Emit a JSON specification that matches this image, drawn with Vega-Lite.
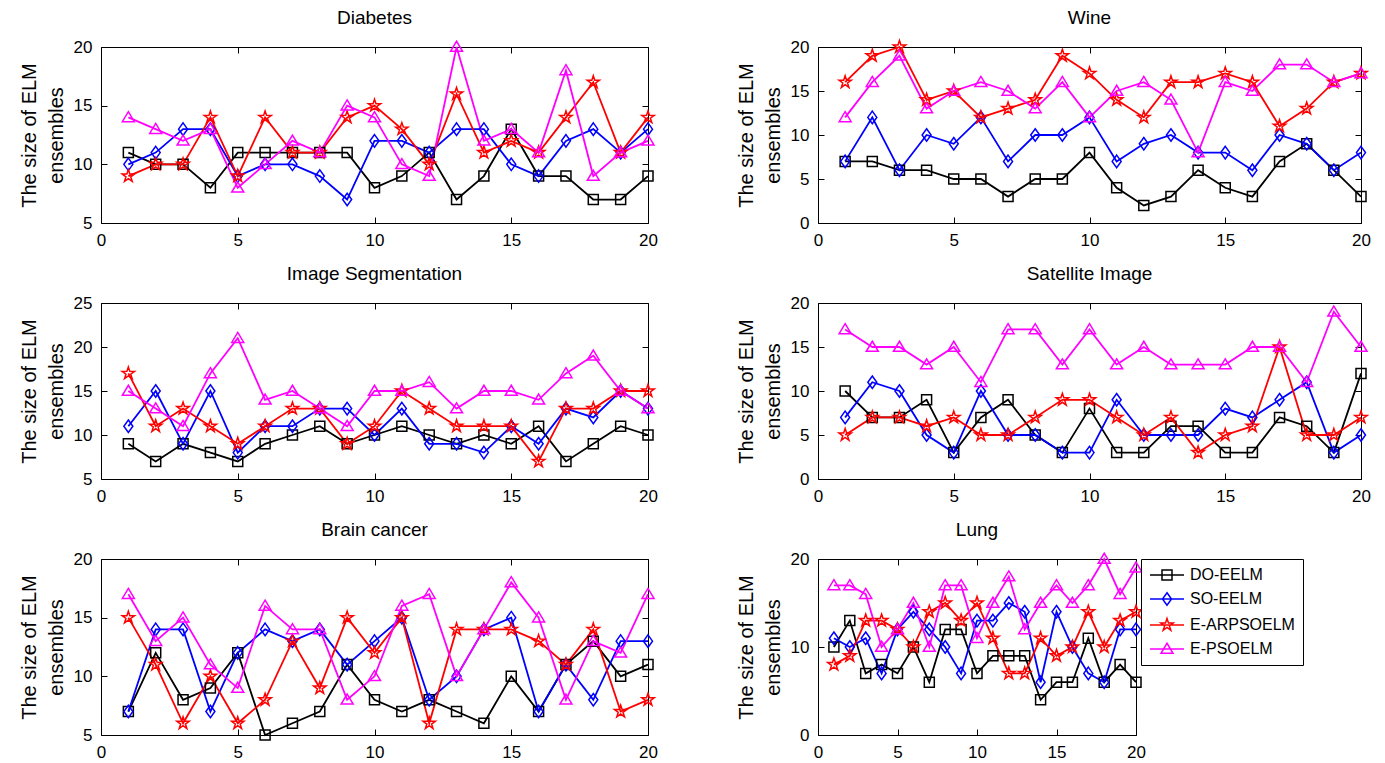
{
"$schema": "https://vega.github.io/schema/vega-lite/v6.json",
"padding": {"left": 18, "top": 8, "right": 5, "bottom": 5},
"background": "white",
"data": {"values": [
{"p":"Diabetes","m":"DO-EELM","x":1,"y":11},{"p":"Diabetes","m":"DO-EELM","x":2,"y":10},{"p":"Diabetes","m":"DO-EELM","x":3,"y":10},{"p":"Diabetes","m":"DO-EELM","x":4,"y":8},{"p":"Diabetes","m":"DO-EELM","x":5,"y":11},{"p":"Diabetes","m":"DO-EELM","x":6,"y":11},{"p":"Diabetes","m":"DO-EELM","x":7,"y":11},{"p":"Diabetes","m":"DO-EELM","x":8,"y":11},{"p":"Diabetes","m":"DO-EELM","x":9,"y":11},{"p":"Diabetes","m":"DO-EELM","x":10,"y":8},{"p":"Diabetes","m":"DO-EELM","x":11,"y":9},{"p":"Diabetes","m":"DO-EELM","x":12,"y":11},{"p":"Diabetes","m":"DO-EELM","x":13,"y":7},{"p":"Diabetes","m":"DO-EELM","x":14,"y":9},{"p":"Diabetes","m":"DO-EELM","x":15,"y":13},{"p":"Diabetes","m":"DO-EELM","x":16,"y":9},{"p":"Diabetes","m":"DO-EELM","x":17,"y":9},{"p":"Diabetes","m":"DO-EELM","x":18,"y":7},{"p":"Diabetes","m":"DO-EELM","x":19,"y":7},{"p":"Diabetes","m":"DO-EELM","x":20,"y":9},
{"p":"Diabetes","m":"SO-EELM","x":1,"y":10},{"p":"Diabetes","m":"SO-EELM","x":2,"y":11},{"p":"Diabetes","m":"SO-EELM","x":3,"y":13},{"p":"Diabetes","m":"SO-EELM","x":4,"y":13},{"p":"Diabetes","m":"SO-EELM","x":5,"y":9},{"p":"Diabetes","m":"SO-EELM","x":6,"y":10},{"p":"Diabetes","m":"SO-EELM","x":7,"y":10},{"p":"Diabetes","m":"SO-EELM","x":8,"y":9},{"p":"Diabetes","m":"SO-EELM","x":9,"y":7},{"p":"Diabetes","m":"SO-EELM","x":10,"y":12},{"p":"Diabetes","m":"SO-EELM","x":11,"y":12},{"p":"Diabetes","m":"SO-EELM","x":12,"y":11},{"p":"Diabetes","m":"SO-EELM","x":13,"y":13},{"p":"Diabetes","m":"SO-EELM","x":14,"y":13},{"p":"Diabetes","m":"SO-EELM","x":15,"y":10},{"p":"Diabetes","m":"SO-EELM","x":16,"y":9},{"p":"Diabetes","m":"SO-EELM","x":17,"y":12},{"p":"Diabetes","m":"SO-EELM","x":18,"y":13},{"p":"Diabetes","m":"SO-EELM","x":19,"y":11},{"p":"Diabetes","m":"SO-EELM","x":20,"y":13},
{"p":"Diabetes","m":"E-ARPSOELM","x":1,"y":9},{"p":"Diabetes","m":"E-ARPSOELM","x":2,"y":10},{"p":"Diabetes","m":"E-ARPSOELM","x":3,"y":10},{"p":"Diabetes","m":"E-ARPSOELM","x":4,"y":14},{"p":"Diabetes","m":"E-ARPSOELM","x":5,"y":9},{"p":"Diabetes","m":"E-ARPSOELM","x":6,"y":14},{"p":"Diabetes","m":"E-ARPSOELM","x":7,"y":11},{"p":"Diabetes","m":"E-ARPSOELM","x":8,"y":11},{"p":"Diabetes","m":"E-ARPSOELM","x":9,"y":14},{"p":"Diabetes","m":"E-ARPSOELM","x":10,"y":15},{"p":"Diabetes","m":"E-ARPSOELM","x":11,"y":13},{"p":"Diabetes","m":"E-ARPSOELM","x":12,"y":10},{"p":"Diabetes","m":"E-ARPSOELM","x":13,"y":16},{"p":"Diabetes","m":"E-ARPSOELM","x":14,"y":11},{"p":"Diabetes","m":"E-ARPSOELM","x":15,"y":12},{"p":"Diabetes","m":"E-ARPSOELM","x":16,"y":11},{"p":"Diabetes","m":"E-ARPSOELM","x":17,"y":14},{"p":"Diabetes","m":"E-ARPSOELM","x":18,"y":17},{"p":"Diabetes","m":"E-ARPSOELM","x":19,"y":11},{"p":"Diabetes","m":"E-ARPSOELM","x":20,"y":14},
{"p":"Diabetes","m":"E-PSOELM","x":1,"y":14},{"p":"Diabetes","m":"E-PSOELM","x":2,"y":13},{"p":"Diabetes","m":"E-PSOELM","x":3,"y":12},{"p":"Diabetes","m":"E-PSOELM","x":4,"y":13},{"p":"Diabetes","m":"E-PSOELM","x":5,"y":8},{"p":"Diabetes","m":"E-PSOELM","x":6,"y":10},{"p":"Diabetes","m":"E-PSOELM","x":7,"y":12},{"p":"Diabetes","m":"E-PSOELM","x":8,"y":11},{"p":"Diabetes","m":"E-PSOELM","x":9,"y":15},{"p":"Diabetes","m":"E-PSOELM","x":10,"y":14},{"p":"Diabetes","m":"E-PSOELM","x":11,"y":10},{"p":"Diabetes","m":"E-PSOELM","x":12,"y":9},{"p":"Diabetes","m":"E-PSOELM","x":13,"y":20},{"p":"Diabetes","m":"E-PSOELM","x":14,"y":12},{"p":"Diabetes","m":"E-PSOELM","x":15,"y":13},{"p":"Diabetes","m":"E-PSOELM","x":16,"y":11},{"p":"Diabetes","m":"E-PSOELM","x":17,"y":18},{"p":"Diabetes","m":"E-PSOELM","x":18,"y":9},{"p":"Diabetes","m":"E-PSOELM","x":19,"y":11},{"p":"Diabetes","m":"E-PSOELM","x":20,"y":12},
{"p":"Wine","m":"DO-EELM","x":1,"y":7},{"p":"Wine","m":"DO-EELM","x":2,"y":7},{"p":"Wine","m":"DO-EELM","x":3,"y":6},{"p":"Wine","m":"DO-EELM","x":4,"y":6},{"p":"Wine","m":"DO-EELM","x":5,"y":5},{"p":"Wine","m":"DO-EELM","x":6,"y":5},{"p":"Wine","m":"DO-EELM","x":7,"y":3},{"p":"Wine","m":"DO-EELM","x":8,"y":5},{"p":"Wine","m":"DO-EELM","x":9,"y":5},{"p":"Wine","m":"DO-EELM","x":10,"y":8},{"p":"Wine","m":"DO-EELM","x":11,"y":4},{"p":"Wine","m":"DO-EELM","x":12,"y":2},{"p":"Wine","m":"DO-EELM","x":13,"y":3},{"p":"Wine","m":"DO-EELM","x":14,"y":6},{"p":"Wine","m":"DO-EELM","x":15,"y":4},{"p":"Wine","m":"DO-EELM","x":16,"y":3},{"p":"Wine","m":"DO-EELM","x":17,"y":7},{"p":"Wine","m":"DO-EELM","x":18,"y":9},{"p":"Wine","m":"DO-EELM","x":19,"y":6},{"p":"Wine","m":"DO-EELM","x":20,"y":3},
{"p":"Wine","m":"SO-EELM","x":1,"y":7},{"p":"Wine","m":"SO-EELM","x":2,"y":12},{"p":"Wine","m":"SO-EELM","x":3,"y":6},{"p":"Wine","m":"SO-EELM","x":4,"y":10},{"p":"Wine","m":"SO-EELM","x":5,"y":9},{"p":"Wine","m":"SO-EELM","x":6,"y":12},{"p":"Wine","m":"SO-EELM","x":7,"y":7},{"p":"Wine","m":"SO-EELM","x":8,"y":10},{"p":"Wine","m":"SO-EELM","x":9,"y":10},{"p":"Wine","m":"SO-EELM","x":10,"y":12},{"p":"Wine","m":"SO-EELM","x":11,"y":7},{"p":"Wine","m":"SO-EELM","x":12,"y":9},{"p":"Wine","m":"SO-EELM","x":13,"y":10},{"p":"Wine","m":"SO-EELM","x":14,"y":8},{"p":"Wine","m":"SO-EELM","x":15,"y":8},{"p":"Wine","m":"SO-EELM","x":16,"y":6},{"p":"Wine","m":"SO-EELM","x":17,"y":10},{"p":"Wine","m":"SO-EELM","x":18,"y":9},{"p":"Wine","m":"SO-EELM","x":19,"y":6},{"p":"Wine","m":"SO-EELM","x":20,"y":8},
{"p":"Wine","m":"E-ARPSOELM","x":1,"y":16},{"p":"Wine","m":"E-ARPSOELM","x":2,"y":19},{"p":"Wine","m":"E-ARPSOELM","x":3,"y":20},{"p":"Wine","m":"E-ARPSOELM","x":4,"y":14},{"p":"Wine","m":"E-ARPSOELM","x":5,"y":15},{"p":"Wine","m":"E-ARPSOELM","x":6,"y":12},{"p":"Wine","m":"E-ARPSOELM","x":7,"y":13},{"p":"Wine","m":"E-ARPSOELM","x":8,"y":14},{"p":"Wine","m":"E-ARPSOELM","x":9,"y":19},{"p":"Wine","m":"E-ARPSOELM","x":10,"y":17},{"p":"Wine","m":"E-ARPSOELM","x":11,"y":14},{"p":"Wine","m":"E-ARPSOELM","x":12,"y":12},{"p":"Wine","m":"E-ARPSOELM","x":13,"y":16},{"p":"Wine","m":"E-ARPSOELM","x":14,"y":16},{"p":"Wine","m":"E-ARPSOELM","x":15,"y":17},{"p":"Wine","m":"E-ARPSOELM","x":16,"y":16},{"p":"Wine","m":"E-ARPSOELM","x":17,"y":11},{"p":"Wine","m":"E-ARPSOELM","x":18,"y":13},{"p":"Wine","m":"E-ARPSOELM","x":19,"y":16},{"p":"Wine","m":"E-ARPSOELM","x":20,"y":17},
{"p":"Wine","m":"E-PSOELM","x":1,"y":12},{"p":"Wine","m":"E-PSOELM","x":2,"y":16},{"p":"Wine","m":"E-PSOELM","x":3,"y":19},{"p":"Wine","m":"E-PSOELM","x":4,"y":13},{"p":"Wine","m":"E-PSOELM","x":5,"y":15},{"p":"Wine","m":"E-PSOELM","x":6,"y":16},{"p":"Wine","m":"E-PSOELM","x":7,"y":15},{"p":"Wine","m":"E-PSOELM","x":8,"y":13},{"p":"Wine","m":"E-PSOELM","x":9,"y":16},{"p":"Wine","m":"E-PSOELM","x":10,"y":12},{"p":"Wine","m":"E-PSOELM","x":11,"y":15},{"p":"Wine","m":"E-PSOELM","x":12,"y":16},{"p":"Wine","m":"E-PSOELM","x":13,"y":14},{"p":"Wine","m":"E-PSOELM","x":14,"y":8},{"p":"Wine","m":"E-PSOELM","x":15,"y":16},{"p":"Wine","m":"E-PSOELM","x":16,"y":15},{"p":"Wine","m":"E-PSOELM","x":17,"y":18},{"p":"Wine","m":"E-PSOELM","x":18,"y":18},{"p":"Wine","m":"E-PSOELM","x":19,"y":16},{"p":"Wine","m":"E-PSOELM","x":20,"y":17},
{"p":"Image Segmentation","m":"DO-EELM","x":1,"y":9},{"p":"Image Segmentation","m":"DO-EELM","x":2,"y":7},{"p":"Image Segmentation","m":"DO-EELM","x":3,"y":9},{"p":"Image Segmentation","m":"DO-EELM","x":4,"y":8},{"p":"Image Segmentation","m":"DO-EELM","x":5,"y":7},{"p":"Image Segmentation","m":"DO-EELM","x":6,"y":9},{"p":"Image Segmentation","m":"DO-EELM","x":7,"y":10},{"p":"Image Segmentation","m":"DO-EELM","x":8,"y":11},{"p":"Image Segmentation","m":"DO-EELM","x":9,"y":9},{"p":"Image Segmentation","m":"DO-EELM","x":10,"y":10},{"p":"Image Segmentation","m":"DO-EELM","x":11,"y":11},{"p":"Image Segmentation","m":"DO-EELM","x":12,"y":10},{"p":"Image Segmentation","m":"DO-EELM","x":13,"y":9},{"p":"Image Segmentation","m":"DO-EELM","x":14,"y":10},{"p":"Image Segmentation","m":"DO-EELM","x":15,"y":9},{"p":"Image Segmentation","m":"DO-EELM","x":16,"y":11},{"p":"Image Segmentation","m":"DO-EELM","x":17,"y":7},{"p":"Image Segmentation","m":"DO-EELM","x":18,"y":9},{"p":"Image Segmentation","m":"DO-EELM","x":19,"y":11},{"p":"Image Segmentation","m":"DO-EELM","x":20,"y":10},
{"p":"Image Segmentation","m":"SO-EELM","x":1,"y":11},{"p":"Image Segmentation","m":"SO-EELM","x":2,"y":15},{"p":"Image Segmentation","m":"SO-EELM","x":3,"y":9},{"p":"Image Segmentation","m":"SO-EELM","x":4,"y":15},{"p":"Image Segmentation","m":"SO-EELM","x":5,"y":8},{"p":"Image Segmentation","m":"SO-EELM","x":6,"y":11},{"p":"Image Segmentation","m":"SO-EELM","x":7,"y":11},{"p":"Image Segmentation","m":"SO-EELM","x":8,"y":13},{"p":"Image Segmentation","m":"SO-EELM","x":9,"y":13},{"p":"Image Segmentation","m":"SO-EELM","x":10,"y":10},{"p":"Image Segmentation","m":"SO-EELM","x":11,"y":13},{"p":"Image Segmentation","m":"SO-EELM","x":12,"y":9},{"p":"Image Segmentation","m":"SO-EELM","x":13,"y":9},{"p":"Image Segmentation","m":"SO-EELM","x":14,"y":8},{"p":"Image Segmentation","m":"SO-EELM","x":15,"y":11},{"p":"Image Segmentation","m":"SO-EELM","x":16,"y":9},{"p":"Image Segmentation","m":"SO-EELM","x":17,"y":13},{"p":"Image Segmentation","m":"SO-EELM","x":18,"y":12},{"p":"Image Segmentation","m":"SO-EELM","x":19,"y":15},{"p":"Image Segmentation","m":"SO-EELM","x":20,"y":13},
{"p":"Image Segmentation","m":"E-ARPSOELM","x":1,"y":17},{"p":"Image Segmentation","m":"E-ARPSOELM","x":2,"y":11},{"p":"Image Segmentation","m":"E-ARPSOELM","x":3,"y":13},{"p":"Image Segmentation","m":"E-ARPSOELM","x":4,"y":11},{"p":"Image Segmentation","m":"E-ARPSOELM","x":5,"y":9},{"p":"Image Segmentation","m":"E-ARPSOELM","x":6,"y":11},{"p":"Image Segmentation","m":"E-ARPSOELM","x":7,"y":13},{"p":"Image Segmentation","m":"E-ARPSOELM","x":8,"y":13},{"p":"Image Segmentation","m":"E-ARPSOELM","x":9,"y":9},{"p":"Image Segmentation","m":"E-ARPSOELM","x":10,"y":11},{"p":"Image Segmentation","m":"E-ARPSOELM","x":11,"y":15},{"p":"Image Segmentation","m":"E-ARPSOELM","x":12,"y":13},{"p":"Image Segmentation","m":"E-ARPSOELM","x":13,"y":11},{"p":"Image Segmentation","m":"E-ARPSOELM","x":14,"y":11},{"p":"Image Segmentation","m":"E-ARPSOELM","x":15,"y":11},{"p":"Image Segmentation","m":"E-ARPSOELM","x":16,"y":7},{"p":"Image Segmentation","m":"E-ARPSOELM","x":17,"y":13},{"p":"Image Segmentation","m":"E-ARPSOELM","x":18,"y":13},{"p":"Image Segmentation","m":"E-ARPSOELM","x":19,"y":15},{"p":"Image Segmentation","m":"E-ARPSOELM","x":20,"y":15},
{"p":"Image Segmentation","m":"E-PSOELM","x":1,"y":15},{"p":"Image Segmentation","m":"E-PSOELM","x":2,"y":13},{"p":"Image Segmentation","m":"E-PSOELM","x":3,"y":11},{"p":"Image Segmentation","m":"E-PSOELM","x":4,"y":17},{"p":"Image Segmentation","m":"E-PSOELM","x":5,"y":21},{"p":"Image Segmentation","m":"E-PSOELM","x":6,"y":14},{"p":"Image Segmentation","m":"E-PSOELM","x":7,"y":15},{"p":"Image Segmentation","m":"E-PSOELM","x":8,"y":13},{"p":"Image Segmentation","m":"E-PSOELM","x":9,"y":11},{"p":"Image Segmentation","m":"E-PSOELM","x":10,"y":15},{"p":"Image Segmentation","m":"E-PSOELM","x":11,"y":15},{"p":"Image Segmentation","m":"E-PSOELM","x":12,"y":16},{"p":"Image Segmentation","m":"E-PSOELM","x":13,"y":13},{"p":"Image Segmentation","m":"E-PSOELM","x":14,"y":15},{"p":"Image Segmentation","m":"E-PSOELM","x":15,"y":15},{"p":"Image Segmentation","m":"E-PSOELM","x":16,"y":14},{"p":"Image Segmentation","m":"E-PSOELM","x":17,"y":17},{"p":"Image Segmentation","m":"E-PSOELM","x":18,"y":19},{"p":"Image Segmentation","m":"E-PSOELM","x":19,"y":15},{"p":"Image Segmentation","m":"E-PSOELM","x":20,"y":13},
{"p":"Satellite Image","m":"DO-EELM","x":1,"y":10},{"p":"Satellite Image","m":"DO-EELM","x":2,"y":7},{"p":"Satellite Image","m":"DO-EELM","x":3,"y":7},{"p":"Satellite Image","m":"DO-EELM","x":4,"y":9},{"p":"Satellite Image","m":"DO-EELM","x":5,"y":3},{"p":"Satellite Image","m":"DO-EELM","x":6,"y":7},{"p":"Satellite Image","m":"DO-EELM","x":7,"y":9},{"p":"Satellite Image","m":"DO-EELM","x":8,"y":5},{"p":"Satellite Image","m":"DO-EELM","x":9,"y":3},{"p":"Satellite Image","m":"DO-EELM","x":10,"y":8},{"p":"Satellite Image","m":"DO-EELM","x":11,"y":3},{"p":"Satellite Image","m":"DO-EELM","x":12,"y":3},{"p":"Satellite Image","m":"DO-EELM","x":13,"y":6},{"p":"Satellite Image","m":"DO-EELM","x":14,"y":6},{"p":"Satellite Image","m":"DO-EELM","x":15,"y":3},{"p":"Satellite Image","m":"DO-EELM","x":16,"y":3},{"p":"Satellite Image","m":"DO-EELM","x":17,"y":7},{"p":"Satellite Image","m":"DO-EELM","x":18,"y":6},{"p":"Satellite Image","m":"DO-EELM","x":19,"y":3},{"p":"Satellite Image","m":"DO-EELM","x":20,"y":12},
{"p":"Satellite Image","m":"SO-EELM","x":1,"y":7},{"p":"Satellite Image","m":"SO-EELM","x":2,"y":11},{"p":"Satellite Image","m":"SO-EELM","x":3,"y":10},{"p":"Satellite Image","m":"SO-EELM","x":4,"y":5},{"p":"Satellite Image","m":"SO-EELM","x":5,"y":3},{"p":"Satellite Image","m":"SO-EELM","x":6,"y":10},{"p":"Satellite Image","m":"SO-EELM","x":7,"y":5},{"p":"Satellite Image","m":"SO-EELM","x":8,"y":5},{"p":"Satellite Image","m":"SO-EELM","x":9,"y":3},{"p":"Satellite Image","m":"SO-EELM","x":10,"y":3},{"p":"Satellite Image","m":"SO-EELM","x":11,"y":9},{"p":"Satellite Image","m":"SO-EELM","x":12,"y":5},{"p":"Satellite Image","m":"SO-EELM","x":13,"y":5},{"p":"Satellite Image","m":"SO-EELM","x":14,"y":5},{"p":"Satellite Image","m":"SO-EELM","x":15,"y":8},{"p":"Satellite Image","m":"SO-EELM","x":16,"y":7},{"p":"Satellite Image","m":"SO-EELM","x":17,"y":9},{"p":"Satellite Image","m":"SO-EELM","x":18,"y":11},{"p":"Satellite Image","m":"SO-EELM","x":19,"y":3},{"p":"Satellite Image","m":"SO-EELM","x":20,"y":5},
{"p":"Satellite Image","m":"E-ARPSOELM","x":1,"y":5},{"p":"Satellite Image","m":"E-ARPSOELM","x":2,"y":7},{"p":"Satellite Image","m":"E-ARPSOELM","x":3,"y":7},{"p":"Satellite Image","m":"E-ARPSOELM","x":4,"y":6},{"p":"Satellite Image","m":"E-ARPSOELM","x":5,"y":7},{"p":"Satellite Image","m":"E-ARPSOELM","x":6,"y":5},{"p":"Satellite Image","m":"E-ARPSOELM","x":7,"y":5},{"p":"Satellite Image","m":"E-ARPSOELM","x":8,"y":7},{"p":"Satellite Image","m":"E-ARPSOELM","x":9,"y":9},{"p":"Satellite Image","m":"E-ARPSOELM","x":10,"y":9},{"p":"Satellite Image","m":"E-ARPSOELM","x":11,"y":7},{"p":"Satellite Image","m":"E-ARPSOELM","x":12,"y":5},{"p":"Satellite Image","m":"E-ARPSOELM","x":13,"y":7},{"p":"Satellite Image","m":"E-ARPSOELM","x":14,"y":3},{"p":"Satellite Image","m":"E-ARPSOELM","x":15,"y":5},{"p":"Satellite Image","m":"E-ARPSOELM","x":16,"y":6},{"p":"Satellite Image","m":"E-ARPSOELM","x":17,"y":15},{"p":"Satellite Image","m":"E-ARPSOELM","x":18,"y":5},{"p":"Satellite Image","m":"E-ARPSOELM","x":19,"y":5},{"p":"Satellite Image","m":"E-ARPSOELM","x":20,"y":7},
{"p":"Satellite Image","m":"E-PSOELM","x":1,"y":17},{"p":"Satellite Image","m":"E-PSOELM","x":2,"y":15},{"p":"Satellite Image","m":"E-PSOELM","x":3,"y":15},{"p":"Satellite Image","m":"E-PSOELM","x":4,"y":13},{"p":"Satellite Image","m":"E-PSOELM","x":5,"y":15},{"p":"Satellite Image","m":"E-PSOELM","x":6,"y":11},{"p":"Satellite Image","m":"E-PSOELM","x":7,"y":17},{"p":"Satellite Image","m":"E-PSOELM","x":8,"y":17},{"p":"Satellite Image","m":"E-PSOELM","x":9,"y":13},{"p":"Satellite Image","m":"E-PSOELM","x":10,"y":17},{"p":"Satellite Image","m":"E-PSOELM","x":11,"y":13},{"p":"Satellite Image","m":"E-PSOELM","x":12,"y":15},{"p":"Satellite Image","m":"E-PSOELM","x":13,"y":13},{"p":"Satellite Image","m":"E-PSOELM","x":14,"y":13},{"p":"Satellite Image","m":"E-PSOELM","x":15,"y":13},{"p":"Satellite Image","m":"E-PSOELM","x":16,"y":15},{"p":"Satellite Image","m":"E-PSOELM","x":17,"y":15},{"p":"Satellite Image","m":"E-PSOELM","x":18,"y":11},{"p":"Satellite Image","m":"E-PSOELM","x":19,"y":19},{"p":"Satellite Image","m":"E-PSOELM","x":20,"y":15},
{"p":"Brain cancer","m":"DO-EELM","x":1,"y":7},{"p":"Brain cancer","m":"DO-EELM","x":2,"y":12},{"p":"Brain cancer","m":"DO-EELM","x":3,"y":8},{"p":"Brain cancer","m":"DO-EELM","x":4,"y":9},{"p":"Brain cancer","m":"DO-EELM","x":5,"y":12},{"p":"Brain cancer","m":"DO-EELM","x":6,"y":5},{"p":"Brain cancer","m":"DO-EELM","x":7,"y":6},{"p":"Brain cancer","m":"DO-EELM","x":8,"y":7},{"p":"Brain cancer","m":"DO-EELM","x":9,"y":11},{"p":"Brain cancer","m":"DO-EELM","x":10,"y":8},{"p":"Brain cancer","m":"DO-EELM","x":11,"y":7},{"p":"Brain cancer","m":"DO-EELM","x":12,"y":8},{"p":"Brain cancer","m":"DO-EELM","x":13,"y":7},{"p":"Brain cancer","m":"DO-EELM","x":14,"y":6},{"p":"Brain cancer","m":"DO-EELM","x":15,"y":10},{"p":"Brain cancer","m":"DO-EELM","x":16,"y":7},{"p":"Brain cancer","m":"DO-EELM","x":17,"y":11},{"p":"Brain cancer","m":"DO-EELM","x":18,"y":13},{"p":"Brain cancer","m":"DO-EELM","x":19,"y":10},{"p":"Brain cancer","m":"DO-EELM","x":20,"y":11},
{"p":"Brain cancer","m":"SO-EELM","x":1,"y":7},{"p":"Brain cancer","m":"SO-EELM","x":2,"y":14},{"p":"Brain cancer","m":"SO-EELM","x":3,"y":14},{"p":"Brain cancer","m":"SO-EELM","x":4,"y":7},{"p":"Brain cancer","m":"SO-EELM","x":5,"y":12},{"p":"Brain cancer","m":"SO-EELM","x":6,"y":14},{"p":"Brain cancer","m":"SO-EELM","x":7,"y":13},{"p":"Brain cancer","m":"SO-EELM","x":8,"y":14},{"p":"Brain cancer","m":"SO-EELM","x":9,"y":11},{"p":"Brain cancer","m":"SO-EELM","x":10,"y":13},{"p":"Brain cancer","m":"SO-EELM","x":11,"y":15},{"p":"Brain cancer","m":"SO-EELM","x":12,"y":8},{"p":"Brain cancer","m":"SO-EELM","x":13,"y":10},{"p":"Brain cancer","m":"SO-EELM","x":14,"y":14},{"p":"Brain cancer","m":"SO-EELM","x":15,"y":15},{"p":"Brain cancer","m":"SO-EELM","x":16,"y":7},{"p":"Brain cancer","m":"SO-EELM","x":17,"y":11},{"p":"Brain cancer","m":"SO-EELM","x":18,"y":8},{"p":"Brain cancer","m":"SO-EELM","x":19,"y":13},{"p":"Brain cancer","m":"SO-EELM","x":20,"y":13},
{"p":"Brain cancer","m":"E-ARPSOELM","x":1,"y":15},{"p":"Brain cancer","m":"E-ARPSOELM","x":2,"y":11},{"p":"Brain cancer","m":"E-ARPSOELM","x":3,"y":6},{"p":"Brain cancer","m":"E-ARPSOELM","x":4,"y":10},{"p":"Brain cancer","m":"E-ARPSOELM","x":5,"y":6},{"p":"Brain cancer","m":"E-ARPSOELM","x":6,"y":8},{"p":"Brain cancer","m":"E-ARPSOELM","x":7,"y":13},{"p":"Brain cancer","m":"E-ARPSOELM","x":8,"y":9},{"p":"Brain cancer","m":"E-ARPSOELM","x":9,"y":15},{"p":"Brain cancer","m":"E-ARPSOELM","x":10,"y":12},{"p":"Brain cancer","m":"E-ARPSOELM","x":11,"y":15},{"p":"Brain cancer","m":"E-ARPSOELM","x":12,"y":6},{"p":"Brain cancer","m":"E-ARPSOELM","x":13,"y":14},{"p":"Brain cancer","m":"E-ARPSOELM","x":14,"y":14},{"p":"Brain cancer","m":"E-ARPSOELM","x":15,"y":14},{"p":"Brain cancer","m":"E-ARPSOELM","x":16,"y":13},{"p":"Brain cancer","m":"E-ARPSOELM","x":17,"y":11},{"p":"Brain cancer","m":"E-ARPSOELM","x":18,"y":14},{"p":"Brain cancer","m":"E-ARPSOELM","x":19,"y":7},{"p":"Brain cancer","m":"E-ARPSOELM","x":20,"y":8},
{"p":"Brain cancer","m":"E-PSOELM","x":1,"y":17},{"p":"Brain cancer","m":"E-PSOELM","x":2,"y":13},{"p":"Brain cancer","m":"E-PSOELM","x":3,"y":15},{"p":"Brain cancer","m":"E-PSOELM","x":4,"y":11},{"p":"Brain cancer","m":"E-PSOELM","x":5,"y":9},{"p":"Brain cancer","m":"E-PSOELM","x":6,"y":16},{"p":"Brain cancer","m":"E-PSOELM","x":7,"y":14},{"p":"Brain cancer","m":"E-PSOELM","x":8,"y":14},{"p":"Brain cancer","m":"E-PSOELM","x":9,"y":8},{"p":"Brain cancer","m":"E-PSOELM","x":10,"y":10},{"p":"Brain cancer","m":"E-PSOELM","x":11,"y":16},{"p":"Brain cancer","m":"E-PSOELM","x":12,"y":17},{"p":"Brain cancer","m":"E-PSOELM","x":13,"y":10},{"p":"Brain cancer","m":"E-PSOELM","x":14,"y":14},{"p":"Brain cancer","m":"E-PSOELM","x":15,"y":18},{"p":"Brain cancer","m":"E-PSOELM","x":16,"y":15},{"p":"Brain cancer","m":"E-PSOELM","x":17,"y":8},{"p":"Brain cancer","m":"E-PSOELM","x":18,"y":13},{"p":"Brain cancer","m":"E-PSOELM","x":19,"y":12},{"p":"Brain cancer","m":"E-PSOELM","x":20,"y":17},
{"p":"Lung","m":"DO-EELM","x":1,"y":10},{"p":"Lung","m":"DO-EELM","x":2,"y":13},{"p":"Lung","m":"DO-EELM","x":3,"y":7},{"p":"Lung","m":"DO-EELM","x":4,"y":8},{"p":"Lung","m":"DO-EELM","x":5,"y":7},{"p":"Lung","m":"DO-EELM","x":6,"y":10},{"p":"Lung","m":"DO-EELM","x":7,"y":6},{"p":"Lung","m":"DO-EELM","x":8,"y":12},{"p":"Lung","m":"DO-EELM","x":9,"y":12},{"p":"Lung","m":"DO-EELM","x":10,"y":7},{"p":"Lung","m":"DO-EELM","x":11,"y":9},{"p":"Lung","m":"DO-EELM","x":12,"y":9},{"p":"Lung","m":"DO-EELM","x":13,"y":9},{"p":"Lung","m":"DO-EELM","x":14,"y":4},{"p":"Lung","m":"DO-EELM","x":15,"y":6},{"p":"Lung","m":"DO-EELM","x":16,"y":6},{"p":"Lung","m":"DO-EELM","x":17,"y":11},{"p":"Lung","m":"DO-EELM","x":18,"y":6},{"p":"Lung","m":"DO-EELM","x":19,"y":8},{"p":"Lung","m":"DO-EELM","x":20,"y":6},
{"p":"Lung","m":"SO-EELM","x":1,"y":11},{"p":"Lung","m":"SO-EELM","x":2,"y":10},{"p":"Lung","m":"SO-EELM","x":3,"y":11},{"p":"Lung","m":"SO-EELM","x":4,"y":7},{"p":"Lung","m":"SO-EELM","x":5,"y":12},{"p":"Lung","m":"SO-EELM","x":6,"y":14},{"p":"Lung","m":"SO-EELM","x":7,"y":12},{"p":"Lung","m":"SO-EELM","x":8,"y":10},{"p":"Lung","m":"SO-EELM","x":9,"y":7},{"p":"Lung","m":"SO-EELM","x":10,"y":13},{"p":"Lung","m":"SO-EELM","x":11,"y":13},{"p":"Lung","m":"SO-EELM","x":12,"y":15},{"p":"Lung","m":"SO-EELM","x":13,"y":14},{"p":"Lung","m":"SO-EELM","x":14,"y":6},{"p":"Lung","m":"SO-EELM","x":15,"y":14},{"p":"Lung","m":"SO-EELM","x":16,"y":10},{"p":"Lung","m":"SO-EELM","x":17,"y":7},{"p":"Lung","m":"SO-EELM","x":18,"y":6},{"p":"Lung","m":"SO-EELM","x":19,"y":12},{"p":"Lung","m":"SO-EELM","x":20,"y":12},
{"p":"Lung","m":"E-ARPSOELM","x":1,"y":8},{"p":"Lung","m":"E-ARPSOELM","x":2,"y":9},{"p":"Lung","m":"E-ARPSOELM","x":3,"y":13},{"p":"Lung","m":"E-ARPSOELM","x":4,"y":13},{"p":"Lung","m":"E-ARPSOELM","x":5,"y":12},{"p":"Lung","m":"E-ARPSOELM","x":6,"y":10},{"p":"Lung","m":"E-ARPSOELM","x":7,"y":14},{"p":"Lung","m":"E-ARPSOELM","x":8,"y":15},{"p":"Lung","m":"E-ARPSOELM","x":9,"y":13},{"p":"Lung","m":"E-ARPSOELM","x":10,"y":15},{"p":"Lung","m":"E-ARPSOELM","x":11,"y":11},{"p":"Lung","m":"E-ARPSOELM","x":12,"y":7},{"p":"Lung","m":"E-ARPSOELM","x":13,"y":7},{"p":"Lung","m":"E-ARPSOELM","x":14,"y":11},{"p":"Lung","m":"E-ARPSOELM","x":15,"y":9},{"p":"Lung","m":"E-ARPSOELM","x":16,"y":10},{"p":"Lung","m":"E-ARPSOELM","x":17,"y":14},{"p":"Lung","m":"E-ARPSOELM","x":18,"y":10},{"p":"Lung","m":"E-ARPSOELM","x":19,"y":13},{"p":"Lung","m":"E-ARPSOELM","x":20,"y":14},
{"p":"Lung","m":"E-PSOELM","x":1,"y":17},{"p":"Lung","m":"E-PSOELM","x":2,"y":17},{"p":"Lung","m":"E-PSOELM","x":3,"y":16},{"p":"Lung","m":"E-PSOELM","x":4,"y":10},{"p":"Lung","m":"E-PSOELM","x":5,"y":12},{"p":"Lung","m":"E-PSOELM","x":6,"y":15},{"p":"Lung","m":"E-PSOELM","x":7,"y":10},{"p":"Lung","m":"E-PSOELM","x":8,"y":17},{"p":"Lung","m":"E-PSOELM","x":9,"y":17},{"p":"Lung","m":"E-PSOELM","x":10,"y":11},{"p":"Lung","m":"E-PSOELM","x":11,"y":15},{"p":"Lung","m":"E-PSOELM","x":12,"y":18},{"p":"Lung","m":"E-PSOELM","x":13,"y":12},{"p":"Lung","m":"E-PSOELM","x":14,"y":15},{"p":"Lung","m":"E-PSOELM","x":15,"y":17},{"p":"Lung","m":"E-PSOELM","x":16,"y":15},{"p":"Lung","m":"E-PSOELM","x":17,"y":17},{"p":"Lung","m":"E-PSOELM","x":18,"y":20},{"p":"Lung","m":"E-PSOELM","x":19,"y":16},{"p":"Lung","m":"E-PSOELM","x":20,"y":19}
]},
"columns": 2,
"bounds": "flush",
"spacing": {"row": 80, "column": 170},
"resolve": {"legend": {"color": "independent"}},
"concat": [
{"title": "Diabetes", "width": 547, "height": 176,
 "transform": [{"filter": "datum.p === 'Diabetes'"}],
 "encoding": {
  "x": {"field": "x", "type": "quantitative", "scale": {"domain": [0,20], "nice": false, "zero": false}, "axis": {"values": [0,5,10,15,20], "title": null}},
  "y": {"field": "y", "type": "quantitative", "scale": {"domain": [5,20], "nice": false, "zero": false}, "axis": {"values": [5,10,15,20], "title": ["The size of ELM", "ensembles"]}},
  "color": {"field": "m", "type": "nominal", "scale": {"domain": ["DO-EELM","SO-EELM","E-ARPSOELM","E-PSOELM"], "range": ["#000000","#0000ff","#ff0000","#ff00ff"]}, "legend": null}
 },
 "layer": [
  {"mark": {"type": "line", "strokeWidth": 1.8}},
  {"mark": {"type": "point", "filled": false, "size": 100, "strokeWidth": 1.5, "opacity": 1},
   "encoding": {
    "shape": {"field": "m", "type": "nominal", "scale": {"domain": ["DO-EELM","SO-EELM","E-ARPSOELM","E-PSOELM"], "range": ["M-1,-1H1V1H-1Z","M0,-1.25L0.9,0L0,1.25L-0.9,0Z","M0,-1.3L0.294,-0.405L1.236,-0.402L0.476,0.155L0.764,1.052L0,0.5L-0.764,1.052L-0.476,0.155L-1.236,-0.402L-0.294,-0.405Z","M0,-1.15L1.2,0.85L-1.2,0.85Z"]}, "legend": null},
    "x": {"field": "x", "type": "quantitative", "scale": {"domain": [0,20], "nice": false, "zero": false}, "axis": {"orient": "top", "labels": false, "values": [0,5,10,15,20], "title": null}},
    "y": {"field": "y", "type": "quantitative", "scale": {"domain": [5,20], "nice": false, "zero": false}, "axis": {"orient": "right", "labels": false, "values": [5,10,15,20], "title": null}}
   }}
 ],
 "resolve": {"axis": {"x": "independent", "y": "independent"}}
},
{"title": "Wine", "width": 543, "height": 176,
 "transform": [{"filter": "datum.p === 'Wine'"}],
 "encoding": {
  "x": {"field": "x", "type": "quantitative", "scale": {"domain": [0,20], "nice": false, "zero": false}, "axis": {"values": [0,5,10,15,20], "title": null}},
  "y": {"field": "y", "type": "quantitative", "scale": {"domain": [0,20], "nice": false, "zero": false}, "axis": {"values": [0,5,10,15,20], "title": ["The size of ELM", "ensembles"]}},
  "color": {"field": "m", "type": "nominal", "scale": {"domain": ["DO-EELM","SO-EELM","E-ARPSOELM","E-PSOELM"], "range": ["#000000","#0000ff","#ff0000","#ff00ff"]}, "legend": null}
 },
 "layer": [
  {"mark": {"type": "line", "strokeWidth": 1.8}},
  {"mark": {"type": "point", "filled": false, "size": 100, "strokeWidth": 1.5, "opacity": 1},
   "encoding": {
    "shape": {"field": "m", "type": "nominal", "scale": {"domain": ["DO-EELM","SO-EELM","E-ARPSOELM","E-PSOELM"], "range": ["M-1,-1H1V1H-1Z","M0,-1.25L0.9,0L0,1.25L-0.9,0Z","M0,-1.3L0.294,-0.405L1.236,-0.402L0.476,0.155L0.764,1.052L0,0.5L-0.764,1.052L-0.476,0.155L-1.236,-0.402L-0.294,-0.405Z","M0,-1.15L1.2,0.85L-1.2,0.85Z"]}, "legend": null},
    "x": {"field": "x", "type": "quantitative", "scale": {"domain": [0,20], "nice": false, "zero": false}, "axis": {"orient": "top", "labels": false, "values": [0,5,10,15,20], "title": null}},
    "y": {"field": "y", "type": "quantitative", "scale": {"domain": [0,20], "nice": false, "zero": false}, "axis": {"orient": "right", "labels": false, "values": [0,5,10,15,20], "title": null}}
   }}
 ],
 "resolve": {"axis": {"x": "independent", "y": "independent"}}
},
{"title": "Image Segmentation", "width": 547, "height": 176,
 "transform": [{"filter": "datum.p === 'Image Segmentation'"}],
 "encoding": {
  "x": {"field": "x", "type": "quantitative", "scale": {"domain": [0,20], "nice": false, "zero": false}, "axis": {"values": [0,5,10,15,20], "title": null}},
  "y": {"field": "y", "type": "quantitative", "scale": {"domain": [5,25], "nice": false, "zero": false}, "axis": {"values": [5,10,15,20,25], "title": ["The size of ELM", "ensembles"]}},
  "color": {"field": "m", "type": "nominal", "scale": {"domain": ["DO-EELM","SO-EELM","E-ARPSOELM","E-PSOELM"], "range": ["#000000","#0000ff","#ff0000","#ff00ff"]}, "legend": null}
 },
 "layer": [
  {"mark": {"type": "line", "strokeWidth": 1.8}},
  {"mark": {"type": "point", "filled": false, "size": 100, "strokeWidth": 1.5, "opacity": 1},
   "encoding": {
    "shape": {"field": "m", "type": "nominal", "scale": {"domain": ["DO-EELM","SO-EELM","E-ARPSOELM","E-PSOELM"], "range": ["M-1,-1H1V1H-1Z","M0,-1.25L0.9,0L0,1.25L-0.9,0Z","M0,-1.3L0.294,-0.405L1.236,-0.402L0.476,0.155L0.764,1.052L0,0.5L-0.764,1.052L-0.476,0.155L-1.236,-0.402L-0.294,-0.405Z","M0,-1.15L1.2,0.85L-1.2,0.85Z"]}, "legend": null},
    "x": {"field": "x", "type": "quantitative", "scale": {"domain": [0,20], "nice": false, "zero": false}, "axis": {"orient": "top", "labels": false, "values": [0,5,10,15,20], "title": null}},
    "y": {"field": "y", "type": "quantitative", "scale": {"domain": [5,25], "nice": false, "zero": false}, "axis": {"orient": "right", "labels": false, "values": [5,10,15,20,25], "title": null}}
   }}
 ],
 "resolve": {"axis": {"x": "independent", "y": "independent"}}
},
{"title": "Satellite Image", "width": 543, "height": 176,
 "transform": [{"filter": "datum.p === 'Satellite Image'"}],
 "encoding": {
  "x": {"field": "x", "type": "quantitative", "scale": {"domain": [0,20], "nice": false, "zero": false}, "axis": {"values": [0,5,10,15,20], "title": null}},
  "y": {"field": "y", "type": "quantitative", "scale": {"domain": [0,20], "nice": false, "zero": false}, "axis": {"values": [0,5,10,15,20], "title": ["The size of ELM", "ensembles"]}},
  "color": {"field": "m", "type": "nominal", "scale": {"domain": ["DO-EELM","SO-EELM","E-ARPSOELM","E-PSOELM"], "range": ["#000000","#0000ff","#ff0000","#ff00ff"]}, "legend": null}
 },
 "layer": [
  {"mark": {"type": "line", "strokeWidth": 1.8}},
  {"mark": {"type": "point", "filled": false, "size": 100, "strokeWidth": 1.5, "opacity": 1},
   "encoding": {
    "shape": {"field": "m", "type": "nominal", "scale": {"domain": ["DO-EELM","SO-EELM","E-ARPSOELM","E-PSOELM"], "range": ["M-1,-1H1V1H-1Z","M0,-1.25L0.9,0L0,1.25L-0.9,0Z","M0,-1.3L0.294,-0.405L1.236,-0.402L0.476,0.155L0.764,1.052L0,0.5L-0.764,1.052L-0.476,0.155L-1.236,-0.402L-0.294,-0.405Z","M0,-1.15L1.2,0.85L-1.2,0.85Z"]}, "legend": null},
    "x": {"field": "x", "type": "quantitative", "scale": {"domain": [0,20], "nice": false, "zero": false}, "axis": {"orient": "top", "labels": false, "values": [0,5,10,15,20], "title": null}},
    "y": {"field": "y", "type": "quantitative", "scale": {"domain": [0,20], "nice": false, "zero": false}, "axis": {"orient": "right", "labels": false, "values": [0,5,10,15,20], "title": null}}
   }}
 ],
 "resolve": {"axis": {"x": "independent", "y": "independent"}}
},
{"title": "Brain cancer", "width": 547, "height": 176,
 "transform": [{"filter": "datum.p === 'Brain cancer'"}],
 "encoding": {
  "x": {"field": "x", "type": "quantitative", "scale": {"domain": [0,20], "nice": false, "zero": false}, "axis": {"values": [0,5,10,15,20], "title": null}},
  "y": {"field": "y", "type": "quantitative", "scale": {"domain": [5,20], "nice": false, "zero": false}, "axis": {"values": [5,10,15,20], "title": ["The size of ELM", "ensembles"]}},
  "color": {"field": "m", "type": "nominal", "scale": {"domain": ["DO-EELM","SO-EELM","E-ARPSOELM","E-PSOELM"], "range": ["#000000","#0000ff","#ff0000","#ff00ff"]}, "legend": null}
 },
 "layer": [
  {"mark": {"type": "line", "strokeWidth": 1.8}},
  {"mark": {"type": "point", "filled": false, "size": 100, "strokeWidth": 1.5, "opacity": 1},
   "encoding": {
    "shape": {"field": "m", "type": "nominal", "scale": {"domain": ["DO-EELM","SO-EELM","E-ARPSOELM","E-PSOELM"], "range": ["M-1,-1H1V1H-1Z","M0,-1.25L0.9,0L0,1.25L-0.9,0Z","M0,-1.3L0.294,-0.405L1.236,-0.402L0.476,0.155L0.764,1.052L0,0.5L-0.764,1.052L-0.476,0.155L-1.236,-0.402L-0.294,-0.405Z","M0,-1.15L1.2,0.85L-1.2,0.85Z"]}, "legend": null},
    "x": {"field": "x", "type": "quantitative", "scale": {"domain": [0,20], "nice": false, "zero": false}, "axis": {"orient": "top", "labels": false, "values": [0,5,10,15,20], "title": null}},
    "y": {"field": "y", "type": "quantitative", "scale": {"domain": [5,20], "nice": false, "zero": false}, "axis": {"orient": "right", "labels": false, "values": [5,10,15,20], "title": null}}
   }}
 ],
 "resolve": {"axis": {"x": "independent", "y": "independent"}}
},
{"title": "Lung", "width": 318, "height": 176,
 "transform": [{"filter": "datum.p === 'Lung'"}],
 "encoding": {
  "x": {"field": "x", "type": "quantitative", "scale": {"domain": [0,20], "nice": false, "zero": false}, "axis": {"values": [0,5,10,15,20], "title": null}},
  "y": {"field": "y", "type": "quantitative", "scale": {"domain": [0,20], "nice": false, "zero": false}, "axis": {"values": [0,10,20], "title": ["The size of ELM", "ensembles"]}},
  "color": {"field": "m", "type": "nominal", "scale": {"domain": ["DO-EELM","SO-EELM","E-ARPSOELM","E-PSOELM"], "range": ["#000000","#0000ff","#ff0000","#ff00ff"]},
   "legend": {"orient": "none", "legendX": 323, "legendY": 0, "title": null, "direction": "vertical",
    "padding": 8, "strokeColor": "black", "fillColor": "white", "symbolSize": 100, "symbolOffset": 10, "labelOffset": 15, "labelFontSize": 16, "labelColor": "black", "rowPadding": 6,
    "encoding": {"symbols": {
     "shape": {"value": {"expr": "datum.value === 'DO-EELM' ? 'M-3.4,0H3.4M-1,-1H1V1H-1Z' : datum.value === 'SO-EELM' ? 'M-3.4,0H3.4M0,-1.25L0.9,0L0,1.25L-0.9,0Z' : datum.value === 'E-ARPSOELM' ? 'M-3.4,0H3.4M0,-1.3L0.294,-0.405L1.236,-0.402L0.476,0.155L0.764,1.052L0,0.5L-0.764,1.052L-0.476,0.155L-1.236,-0.402L-0.294,-0.405Z' : 'M-3.4,0H3.4M0,-1.15L1.2,0.85L-1.2,0.85Z'"}},
     "stroke": {"value": {"expr": "datum.value === 'DO-EELM' ? '#000000' : datum.value === 'SO-EELM' ? '#0000ff' : datum.value === 'E-ARPSOELM' ? '#ff0000' : '#ff00ff'"}},
     "fill": {"value": "transparent"},
     "strokeWidth": {"value": 1.5},
     "opacity": {"value": 1}
    }}}
  }
 },
 "layer": [
  {"mark": {"type": "line", "strokeWidth": 1.8}},
  {"mark": {"type": "point", "filled": false, "size": 100, "strokeWidth": 1.5, "opacity": 1},
   "encoding": {
    "shape": {"field": "m", "type": "nominal", "scale": {"domain": ["DO-EELM","SO-EELM","E-ARPSOELM","E-PSOELM"], "range": ["M-1,-1H1V1H-1Z","M0,-1.25L0.9,0L0,1.25L-0.9,0Z","M0,-1.3L0.294,-0.405L1.236,-0.402L0.476,0.155L0.764,1.052L0,0.5L-0.764,1.052L-0.476,0.155L-1.236,-0.402L-0.294,-0.405Z","M0,-1.15L1.2,0.85L-1.2,0.85Z"]}, "legend": null},
    "x": {"field": "x", "type": "quantitative", "scale": {"domain": [0,20], "nice": false, "zero": false}, "axis": {"orient": "top", "labels": false, "values": [0,5,10,15,20], "title": null}},
    "y": {"field": "y", "type": "quantitative", "scale": {"domain": [0,20], "nice": false, "zero": false}, "axis": {"orient": "right", "labels": false, "values": [0,10,20], "title": null}}
   }}
 ],
 "resolve": {"axis": {"x": "independent", "y": "independent"}}
}
],
"config": {
 "font": "Liberation Sans",
 "view": {"stroke": "black", "strokeWidth": 1},
 "axis": {"grid": false, "domain": false, "tickColor": "black", "tickSize": -6, "tickWidth": 1, "labelFontSize": 17, "labelColor": "black", "labelPadding": 15, "labelFlush": false, "labelOverlap": false, "labelFont": "Liberation Sans", "titleFont": "Liberation Sans", "titleFontSize": 20, "titleFontWeight": "normal", "titleColor": "black", "titlePadding": 7, "titleLineHeight": 27},
 "title": {"fontSize": 19, "fontWeight": "normal", "color": "black", "font": "Liberation Sans", "offset": 10},
 "legend": {"labelFont": "Liberation Sans"}
}
}
